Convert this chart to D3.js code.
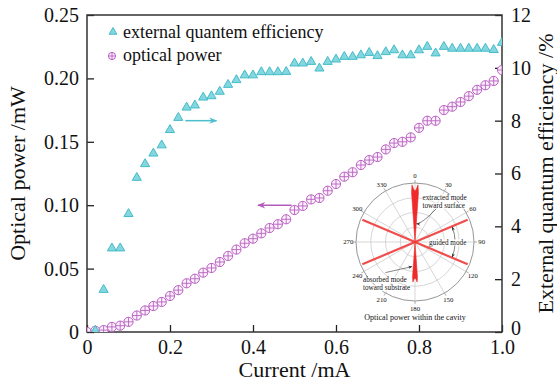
<!DOCTYPE html>
<html>
<head>
<meta charset="utf-8">
<script src="https://cdn.jsdelivr.net/npm/d3@7"></script>
<style>
  html, body { margin: 0; padding: 0; background: #fff; }
  svg text { font-family: "Liberation Serif", "Times New Roman", serif; fill: #111; }
</style>
</head>
<body>
<div id="chart"></div>
<script>
// current (mA), 0.02 steps
const current = d3.range(51).map(i => +(i * 0.02).toFixed(2));

// optical power (mW), one value per current step
const opticalPower = [
  0, 0.001, 0.0015, 0.004, 0.005, 0.008, 0.013, 0.017, 0.0205, 0.0237,
  0.0284, 0.033, 0.0384, 0.042, 0.0468, 0.0505, 0.0552, 0.060, 0.065, 0.070,
  0.0736, 0.0778, 0.082, 0.085, 0.0889, 0.0962, 0.0994, 0.1046, 0.1057, 0.1114,
  0.1167, 0.1225, 0.126, 0.1317, 0.1356, 0.138, 0.144, 0.149, 0.150, 0.1535,
  0.161, 0.1666, 0.1666, 0.175, 0.1777, 0.1814, 0.186, 0.191, 0.1946, 0.198,
  0.2066
];

// external quantum efficiency (%), starts at 0.02 mA
const eqeCurrent = current.slice(1);
const eqe = [
  0.05, 1.6, 3.17, 3.17, 4.47, 5.84, 6.36, 6.76, 7.07, 7.65,
  8.11, 8.5, 8.58, 8.88, 8.93, 9.1, 9.36, 9.54, 9.72, 9.72,
  9.84, 9.84, 9.84, 9.85, 10.17, 10.17, 10.23, 9.98, 10.23, 10.32,
  10.42, 10.42, 10.48, 10.57, 10.45, 10.6, 10.67, 10.48, 10.48, 10.67,
  10.8, 10.55, 10.8, 10.73, 10.73, 10.73, 10.73, 10.73, 10.68, 10.95
];

const xTicks = [0, 0.2, 0.4, 0.6, 0.8, 1.0];
const yLeftTicks = [0, 0.05, 0.10, 0.15, 0.20, 0.25];
const yRightTicks = [0, 2, 4, 6, 8, 10, 12];

// inset: optical power within the cavity (polar, degrees clockwise from top)
const polarAngles = [0, 30, 60, 90, 120, 150, 180, 210, 240, 270, 300, 330];
const polarRings = [0.25, 0.5, 0.75, 1];
const extractedAngle = [-5, -4, -3, -1.5, 0, 1.5, 3, 4, 5];
const extractedPower = [0, 0.84, 0.97, 0.9, 0.86, 0.9, 0.97, 0.84, 0];
const absorbedAngle = [175, 176, 177, 178.5, 180, 181.5, 183, 184, 185];
const absorbedPower = [0, 0.6, 0.68, 0.63, 0.61, 0.63, 0.68, 0.6, 0];
const guidedAngle = [67, 113, 247, 293];
const guidedPower = [0.97, 0.97, 0.97, 0.97];

const W = 557, H = 383;
const margin = { top: 15, right: 55, bottom: 51, left: 87 };

const svg = d3.select('#chart').append('svg')
  .attr('width', W).attr('height', H);

const x = d3.scaleLinear().domain([0, 1]).range([margin.left, W - margin.right]);
const yL = d3.scaleLinear().domain([0, 0.25]).range([H - margin.bottom, margin.top]);
const yR = d3.scaleLinear().domain([0, 12]).range([H - margin.bottom, margin.top]);

const defs = svg.append('defs');
defs.append('clipPath').attr('id', 'plotclip').append('rect')
  .attr('x', x(0)).attr('y', yL(0.25))
  .attr('width', x(1) - x(0)).attr('height', yL(0) - yL(0.25));

function arrowMarker(id, color, w, h) {
  defs.append('marker')
    .attr('id', id).attr('viewBox', '0 0 10 10')
    .attr('refX', 9).attr('refY', 5)
    .attr('markerUnits', 'userSpaceOnUse')
    .attr('markerWidth', w).attr('markerHeight', h)
    .attr('orient', 'auto')
    .append('path').attr('d', 'M0,1 L10,5 L0,9 L3,5 Z').attr('fill', color);
}
arrowMarker('arrCyan', '#4bbfcc', 10, 8);
arrowMarker('arrPurple', '#b45cbc', 10, 8);
arrowMarker('arrSmall', '#333', 5, 4);

// axes
const tickStyle = g => {
  g.select('.domain').remove();
  g.selectAll('.tick line').attr('stroke', '#222').attr('stroke-width', 1.3);
  g.selectAll('.tick text').attr('font-size', 20).attr('fill', '#111')
    .attr('font-family', '"Liberation Serif", serif');
};

svg.append('g')
  .attr('transform', `translate(0,${yL(0)})`)
  .call(d3.axisBottom(x).tickValues(xTicks)
    .tickFormat(d => d === 0 ? '0' : d3.format('.1f')(d))
    .tickSizeInner(-7).tickSizeOuter(0).tickPadding(8))
  .call(tickStyle);

svg.append('g')
  .attr('transform', `translate(${x(0)},0)`)
  .call(d3.axisLeft(yL).tickValues(yLeftTicks)
    .tickFormat(d => d === 0 ? '0' : d3.format('.2f')(d))
    .tickSizeInner(-7).tickSizeOuter(0).tickPadding(8))
  .call(tickStyle);

svg.append('g')
  .attr('transform', `translate(${x(1)},0)`)
  .call(d3.axisRight(yR).tickValues(yRightTicks)
    .tickFormat(d3.format('d'))
    .tickSizeInner(-7).tickSizeOuter(0).tickPadding(9))
  .call(tickStyle)
  .call(g => g.selectAll('.tick text').filter(d => d === 0).attr('dy', '0.1em'));

// frame
svg.append('rect')
  .attr('x', x(0)).attr('y', yL(0.25))
  .attr('width', x(1) - x(0)).attr('height', yL(0) - yL(0.25))
  .attr('fill', 'none').attr('stroke', '#333').attr('stroke-width', 1.5);

// axis titles
svg.append('text')
  .attr('x', (x(0) + x(1)) / 2).attr('y', 377)
  .attr('text-anchor', 'middle').attr('font-size', 22)
  .text('Current /mA');

svg.append('text')
  .attr('transform', `translate(25,${(yL(0) + yL(0.25)) / 2}) rotate(-90)`)
  .attr('text-anchor', 'middle').attr('font-size', 22)
  .text('Optical power /mW');

svg.append('text')
  .attr('transform', `translate(553,${(yL(0) + yL(0.25)) / 2}) rotate(-90)`)
  .attr('text-anchor', 'middle').attr('font-size', 22)
  .text('External quantum efficiency /%');

// data
const plot = svg.append('g').attr('clip-path', 'url(#plotclip)');

const tri = d3.symbol(d3.symbolTriangle, 36);
const cyanFill = '#84d6df', cyanStroke = '#44bcc9';
const purple = '#b961c1';

function oplus(g, r) {
  g.append('circle').attr('r', r).attr('fill', '#fbf0fb')
    .attr('stroke', purple).attr('stroke-width', 1);
  g.append('line').attr('x1', -r).attr('x2', r)
    .attr('stroke', purple).attr('stroke-width', 0.9);
  g.append('line').attr('y1', -r).attr('y2', r)
    .attr('stroke', purple).attr('stroke-width', 0.9);
}

plot.selectAll('g.pw')
  .data(current.map((c, i) => [c, opticalPower[i]]))
  .join('g').attr('class', 'pw')
  .attr('transform', d => `translate(${x(d[0])},${yL(d[1])})`)
  .each(function () { oplus(d3.select(this), 4.6); });

plot.selectAll('path.eqe')
  .data(eqeCurrent.map((c, i) => [c, eqe[i]]))
  .join('path').attr('class', 'eqe')
  .attr('d', tri)
  .attr('transform', d => `translate(${x(d[0])},${yR(d[1])})`)
  .attr('fill', cyanFill).attr('stroke', cyanStroke).attr('stroke-width', 1);

// direction arrows
svg.append('line')
  .attr('x1', x(0.237)).attr('x2', x(0.312))
  .attr('y1', yR(8)).attr('y2', yR(8))
  .attr('stroke', '#4bbfcc').attr('stroke-width', 1.5)
  .attr('marker-end', 'url(#arrCyan)');

svg.append('line')
  .attr('x1', x(0.493)).attr('x2', x(0.412))
  .attr('y1', yL(0.10)).attr('y2', yL(0.10))
  .attr('stroke', '#b45cbc').attr('stroke-width', 1.5)
  .attr('marker-end', 'url(#arrPurple)');

// legend
const leg = svg.append('g');
leg.append('path').attr('d', d3.symbol(d3.symbolTriangle, 26))
  .attr('transform', 'translate(113,32)')
  .attr('fill', cyanFill).attr('stroke', cyanStroke).attr('stroke-width', 1);
leg.append('text').attr('x', 123).attr('y', 38).attr('font-size', 18)
  .text('external quantem efficiency');
oplus(leg.append('g').attr('transform', 'translate(112,56)'), 3.6);
leg.append('text').attr('x', 123).attr('y', 61).attr('font-size', 18)
  .text('optical power');

// inset polar plot
const cx = 415, cy = 242, R = 59;
const rP = d3.scaleLinear().domain([0, 1]).range([0, R]);
const rad = a => a * Math.PI / 180;
const pol = (a, r) => [cx + rP(r) * Math.sin(rad(a)), cy - rP(r) * Math.cos(rad(a))];

const inset = svg.append('g');
inset.selectAll('circle.ring').data(polarRings).join('circle')
  .attr('class', 'ring')
  .attr('cx', cx).attr('cy', cy).attr('r', d => rP(d))
  .attr('fill', d => d === 1 ? '#fff' : 'none')
  .attr('stroke', d => d === 1 ? '#8a8a8a' : '#c4c4c4')
  .attr('stroke-width', d => d === 1 ? 0.9 : 0.7);
inset.selectAll('circle.ring').sort((a, b) => b - a);

inset.selectAll('line.spoke').data(polarAngles).join('line')
  .attr('class', 'spoke')
  .attr('x1', cx).attr('y1', cy)
  .attr('x2', d => pol(d, 1)[0]).attr('y2', d => pol(d, 1)[1])
  .attr('stroke', '#c4c4c4').attr('stroke-width', 0.7);

inset.selectAll('line.tk').data(polarAngles).join('line')
  .attr('class', 'tk')
  .attr('x1', d => pol(d, 1)[0]).attr('y1', d => pol(d, 1)[1])
  .attr('x2', d => pol(d, 1.05)[0]).attr('y2', d => pol(d, 1.05)[1])
  .attr('stroke', '#8a8a8a').attr('stroke-width', 0.7);

inset.selectAll('text.deg').data(polarAngles).join('text')
  .attr('class', 'deg')
  .attr('x', d => pol(d, 1.13)[0]).attr('y', d => pol(d, 1.13)[1] + 2.3)
  .attr('text-anchor', 'middle').attr('font-size', 6.8).attr('fill', '#222')
  .text(d => d);

const radial = d3.lineRadial()
  .angle(d => rad(d[0])).radius(d => rP(d[1]))
  .curve(d3.curveLinearClosed);

const lobeG = inset.append('g').attr('transform', `translate(${cx},${cy})`);
lobeG.append('path')
  .attr('d', radial(extractedAngle.map((a, i) => [a, extractedPower[i]]).concat([[0, 0]])))
  .attr('fill', '#ee2a2a').attr('stroke', '#ee2a2a').attr('stroke-width', 0.6);
lobeG.append('path')
  .attr('d', radial(absorbedAngle.map((a, i) => [a, absorbedPower[i]]).concat([[180, 0]])))
  .attr('fill', '#ee2a2a').attr('stroke', '#ee2a2a').attr('stroke-width', 0.6);
lobeG.selectAll('line.guided').data(guidedAngle.map((a, i) => [a, guidedPower[i]]))
  .join('line').attr('class', 'guided')
  .attr('x1', 0).attr('y1', 0)
  .attr('x2', d => rP(d[1]) * Math.sin(rad(d[0])))
  .attr('y2', d => -rP(d[1]) * Math.cos(rad(d[0])))
  .attr('stroke', '#f03a3a').attr('stroke-width', 2.2).attr('stroke-opacity', 0.9);

// annotations
const annoStroke = '#333';
const curve = (a, c, b) => `M${a[0]},${a[1]} Q${c[0]},${c[1]} ${b[0]},${b[1]}`;

inset.append('path')
  .attr('d', curve(pol(33, 0.69), pol(20, 0.32), pol(5, 0.31)))
  .attr('fill', 'none').attr('stroke', annoStroke).attr('stroke-width', 0.6)
  .attr('marker-end', 'url(#arrSmall)');

const arcR = rP(0.68);
inset.append('path')
  .attr('d', `M${pol(90, 0.68)[0]},${pol(90, 0.68)[1]} A${arcR},${arcR} 0 0 0 ${pol(68, 0.68)[0]},${pol(68, 0.68)[1]}`)
  .attr('fill', 'none').attr('stroke', annoStroke).attr('stroke-width', 0.6)
  .attr('marker-end', 'url(#arrSmall)');
inset.append('path')
  .attr('d', `M${pol(90, 0.68)[0]},${pol(90, 0.68)[1]} A${arcR},${arcR} 0 0 1 ${pol(112, 0.68)[0]},${pol(112, 0.68)[1]}`)
  .attr('fill', 'none').attr('stroke', annoStroke).attr('stroke-width', 0.6)
  .attr('marker-end', 'url(#arrSmall)');

inset.append('path')
  .attr('d', curve(pol(224, 0.72), pol(205, 0.5), pol(187, 0.42)))
  .attr('fill', 'none').attr('stroke', annoStroke).attr('stroke-width', 0.6)
  .attr('marker-end', 'url(#arrSmall)');

const annoText = (tx, ty, s) => {
  const t = inset.append('text').attr('x', tx).attr('y', ty)
    .attr('font-size', 7.2).attr('fill', '#111').text(s);
  const b = t.node().getBBox();
  inset.insert('rect', () => t.node())
    .attr('x', b.x - 0.5).attr('y', b.y + 1).attr('width', b.width + 1).attr('height', b.height - 2)
    .attr('fill', '#fff');
};
annoText(cx + 7.5, 199.5, 'extracted mode');
annoText(cx + 7.5, 207.8, 'toward surface');
annoText(cx + 14, 244.5, 'guided mode');
annoText(cx - 52, 281.8, 'absorbed mode');
annoText(cx - 52, 290.2, 'toward substrate');

inset.append('text')
  .attr('x', cx).attr('y', 319.5)
  .attr('text-anchor', 'middle').attr('font-size', 8).attr('fill', '#111')
  .text('Optical power within the cavity');
</script>
</body>
</html>
